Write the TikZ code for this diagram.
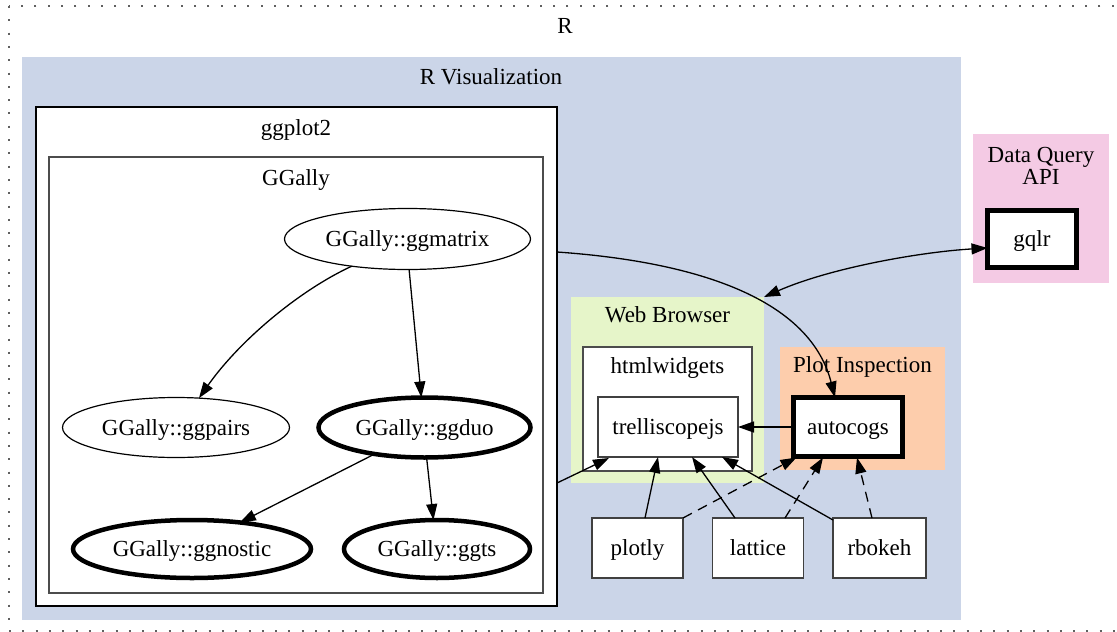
\documentclass[tikz,border=0pt]{standalone}
\usepackage{fontspec}
\setmainfont{Liberation Serif}
\usetikzlibrary{arrows.meta,shapes.geometric}
\definecolor{cblue}{HTML}{CBD5E8}
\definecolor{cgreen}{HTML}{E6F5C9}
\definecolor{corange}{HTML}{FDCDAC}
\definecolor{cpink}{HTML}{F4CAE4}
\definecolor{cdot}{HTML}{606060}
\begin{document}
\begin{tikzpicture}[x=1pt,y=-1pt,
  every node/.style={font=\fontsize{23}{25}\selectfont, inner sep=0pt, outer sep=0pt},
  clus/.style={rectangle, anchor=north west, line width=1.2pt},
  ttl/.style={anchor=base},
  nbox/.style={rectangle, draw=black!75, fill=white, line width=1.3pt, text height=17pt, text depth=2pt},
  tbox/.style={rectangle, draw=black, fill=white, line width=4.5pt, text height=17pt, text depth=2pt},
  nell/.style={ellipse, draw=black, fill=white, line width=1.2pt, text height=17pt, text depth=2pt},
  tell/.style={nell, line width=4.5pt},
  edge/.style={-{Triangle[length=16pt,width=11pt]}, line width=1.3pt},
  dedge/.style={edge, dash pattern=on 10pt off 7pt},
  bedge/.style={{Triangle[length=16pt,width=11pt]}-{Triangle[length=16pt,width=11pt]}, line width=1.3pt}
]
\useasboundingbox (0,0) rectangle (1117,632);
\clip (0,0) rectangle (1117,632);
\fill[white] (0,0) rectangle (1117,632);
% outer R cluster
\draw[cdot, line width=2pt, dash pattern=on 2pt off 11.3pt] (9,6) rectangle (1140,631);
\node[ttl] (tR) at (565,33) {R};
% clusters
\node[clus, fill=cblue, minimum width=939pt, minimum height=563pt] (rvis) at (22,57) {};
\node[ttl] (tRvis) at (491,84) {R Visualization};
\node[clus, fill=white, draw=black, minimum width=521pt, minimum height=499pt] (ggplot) at (36,107) {};
\node[ttl] (tggplot) at (296,135) {ggplot2};
\node[clus, fill=white, draw=black!70, minimum width=494pt, minimum height=436pt] (ggally) at (49,157) {};
\node[ttl] (tggally) at (296,185) {GGally};
\node[clus, fill=cgreen, minimum width=193pt, minimum height=186pt] (web) at (571,297) {};
\node[ttl] (tweb) at (667.5,322) {Web Browser};
\node[clus, fill=white, draw=black!70, minimum width=169pt, minimum height=124pt] (htmlw) at (583,347) {};
\node[ttl] (thtmlw) at (667.5,373) {htmlwidgets};
\node[clus, fill=corange, minimum width=165pt, minimum height=123pt] (plotins) at (780,347) {};
\node[ttl] (tplotins) at (862.5,372.5) {Plot Inspection};
\node[clus, fill=cpink, minimum width=136pt, minimum height=149pt] (dq) at (973,134) {};
\node[ttl, align=center, font=\fontsize{23}{22.5}\selectfont] (tdq) at (1041,184.5) {Data Query\\API};
% nodes
\node[nell, minimum width=246pt, minimum height=61pt] (ggmatrix) at (407.5,239) {GGally::ggmatrix};
\node[nell, minimum width=227pt, minimum height=60pt] (ggpairs) at (176,427.5) {GGally::ggpairs};
\node[tell, minimum width=212pt, minimum height=60pt] (ggduo) at (424.5,427.5) {GGally::ggduo};
\node[tell, minimum width=238pt, minimum height=58pt] (ggnostic) at (192,549) {GGally::ggnostic};
\node[tell, minimum width=186pt, minimum height=58pt] (ggts) at (437,549) {GGally::ggts};
\node[nbox, minimum width=140pt, minimum height=60pt] (trel) at (668,427) {trelliscopejs};
\node[tbox, minimum width=109pt, minimum height=59pt] (autocogs) at (848,427) {autocogs};
\node[tbox, minimum width=89pt, minimum height=57pt] (gqlr) at (1032,239) {gqlr};
\node[nbox, minimum width=91pt, minimum height=60pt] (plotly) at (637.5,548) {plotly};
\node[nbox, minimum width=91pt, minimum height=60pt] (lattice) at (758,548) {lattice};
\node[nbox, minimum width=93pt, minimum height=60pt] (rbokeh) at (879.5,548) {rbokeh};
% edges
\draw[edge] (ggmatrix.206) .. controls (300,290) and (240,340) .. (ggpairs.52);
\draw[edge] (ggmatrix.273) -- (ggduo.96);
\draw[edge] (ggduo.208) -- (ggnostic.29);
\draw[edge] (ggduo.274) -- (ggts.97);
\draw[edge] ([yshift=104.5pt]ggplot.east) .. controls (700,262) and (810,300) .. ([xshift=-13pt]autocogs.north);
\draw[bedge] (web.north east) .. controls (830,268) and (920,252) .. (gqlr.west |- 0,248);
\draw[edge] ([yshift=-126.5pt]ggplot.east) -- ([xshift=11pt,yshift=-1pt]trel.south west);
\draw[edge] (autocogs.west) -- (trel.east);
\draw[edge] ([xshift=7.5pt]plotly.north) -- ([xshift=-10pt]trel.south);
\draw[edge] ([xshift=-23pt]lattice.north) -- ([xshift=24pt]trel.south);
\draw[edge] ([yshift=-2pt]rbokeh.north west) -- ([xshift=54pt]trel.south);
\draw[dedge] (plotly.north east) -- ([xshift=3pt,yshift=-1pt]autocogs.south west);
\draw[dedge] ([xshift=27pt]lattice.north) -- ([xshift=-25pt,yshift=-1pt]autocogs.south);
\draw[dedge] ([xshift=-7.5pt]rbokeh.north) -- ([xshift=9pt,yshift=-1pt]autocogs.south);
\end{tikzpicture}
\end{document}
